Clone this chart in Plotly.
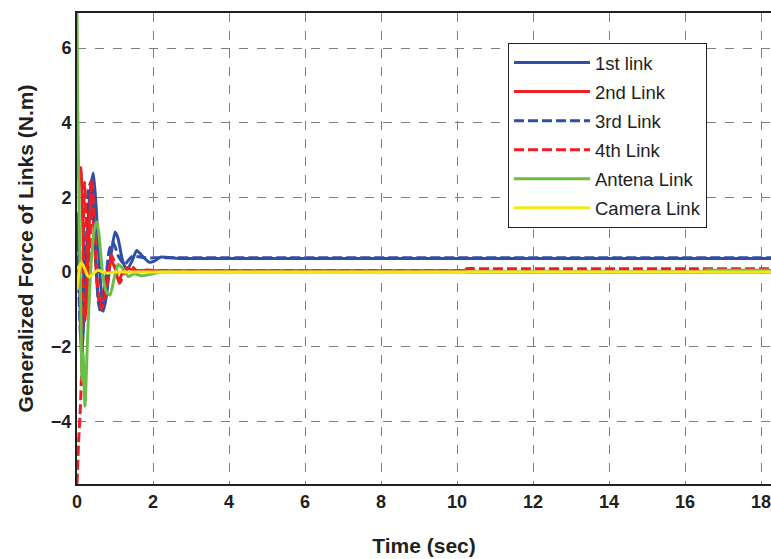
import plotly.graph_objects as go

# ---- data ----
t_link1 = [0, 0.05, 0.09, 0.12, 0.17, 0.25, 0.33, 0.43, 0.50, 0.60, 0.69, 0.78, 0.90, 1.00, 1.08, 1.20, 1.31, 1.45, 1.57, 1.70, 1.90, 2.05, 2.20, 2.60, 3.00, 18.6]
y_link1 = [1.6, 0.5, -1.5, -2.36, -1.5, 0.5, 2.0, 2.65, 1.8, 0.0, -1.05, -0.6, 0.5, 1.07, 0.9, 0.3, 0.05, 0.3, 0.58, 0.45, 0.26, 0.30, 0.40, 0.37, 0.36, 0.36]

t_link2 = [0, 0.05, 0.10, 0.16, 0.22, 0.28, 0.34, 0.38, 0.46, 0.55, 0.63, 0.75, 0.88, 1.00, 1.10, 1.25, 1.50, 2.00, 2.50, 10.0, 10.2, 10.25, 10.45, 18.6]
y_link2 = [3.7, 2.5, 2.8, 1.0, -1.3, -0.2, 1.8, 2.3, 0.8, -0.6, -0.95, -0.2, 0.35, 0.1, -0.25, 0.1, 0.05, 0.035, 0.035, 0.035, 0.035, 0.0, 0.0, 0.0]

t_link3 = [0, 0.05, 0.10, 0.20, 0.30, 0.38, 0.47, 0.56, 0.63, 0.75, 0.85, 0.95, 1.10, 1.25, 1.45, 1.80, 2.20, 18.6]
y_link3 = [1.2, -0.5, -1.8, 0.3, 2.2, 2.45, 1.0, -0.8, -1.1, -0.3, 0.6, 0.8, 0.4, 0.2, 0.42, 0.38, 0.38, 0.38]

t_link4 = [0, 0.04, 0.09, 0.13, 0.16, 0.20, 0.25, 0.30, 0.34, 0.39, 0.45, 0.55, 0.65, 0.75, 0.91, 1.00, 1.12, 1.30, 1.45, 1.60, 1.80, 2.20, 2.60, 10.0, 10.2, 10.25, 10.45, 18.6]
y_link4 = [-5.68, -4.6, -3.6, -2.4, 0.5, 2.4, 1.0, -1.0, 0.5, 2.5, 1.5, -0.5, -1.0, -0.6, 0.45, 0.2, -0.3, 0.1, 0.15, 0.0, 0.05, 0.035, 0.035, 0.035, 0.035, 0.09, 0.09, 0.09]

t_antena = [0, 0.02, 0.06, 0.10, 0.13, 0.16, 0.21, 0.27, 0.33, 0.40, 0.47, 0.52, 0.58, 0.68, 0.78, 0.87, 0.97, 1.08, 1.20, 1.35, 1.50, 1.70, 2.00, 2.20, 2.50, 16.3, 16.5, 16.55, 16.75, 18.6]
y_antena = [6.94, 4.3, 1.4, -1.0, -2.9, -2.2, -3.6, -2.0, -0.5, 0.6, 1.2, 1.35, 1.0, -0.1, -0.55, -0.62, -0.2, 0.2, 0.1, -0.12, -0.05, -0.1, -0.05, 0.0, 0.0, 0.0, 0.0, 0.05, 0.05, 0.05]

t_camera = [0, 0.04, 0.08, 0.12, 0.20, 0.28, 0.34, 0.45, 0.55, 0.68, 0.80, 1.00, 1.30, 18.6]
y_camera = [-0.48, -0.1, 0.2, 0.24, 0.1, -0.1, -0.13, -0.02, 0.05, 0.0, -0.03, 0.0, 0.0, 0.0]

series_names = ["1st link", "2nd Link", "3rd Link", "4th Link", "Antena Link", "Camera Link"]
x_ticks = [0, 2, 4, 6, 8, 10, 12, 14, 16, 18]
y_ticks = [-4, -2, 0, 2, 4, 6]

BLUE = "#2f4fa6"
RED = "#ee1f24"
GREEN = "#6cbd45"
YELLOW = "#f5e616"

series = [
    (t_link1, y_link1, BLUE, "solid"),
    (t_link2, y_link2, RED, "solid"),
    (t_link3, y_link3, BLUE, "10px,4px"),
    (t_link4, y_link4, RED, "10px,4px"),
    (t_antena, y_antena, GREEN, "solid"),
    (t_camera, y_camera, YELLOW, "solid"),
]

fig = go.Figure()
for name, (tx, ty, col, dash) in zip(series_names, series):
    fig.add_trace(go.Scatter(
        x=tx, y=ty, mode="lines", name=name, legendgroup=name,
        line=dict(color=col, width=3, dash=dash, shape="spline", smoothing=0.5),
    ))

TICKFONT = dict(size=18, weight="bold", family="Liberation Sans Narrow, Liberation Sans, Arial", color="#231f20")
TITLEFONT = dict(size=21, weight="bold", family="Liberation Sans Narrow, Liberation Sans, Arial", color="#231f20")

fig.update_layout(
    width=771, height=559,
    margin=dict(l=77, r=0, t=13, b=75),
    paper_bgcolor="white", plot_bgcolor="white",
    font=dict(family="Liberation Sans, Arial, sans-serif", color="#231f20"),
    showlegend=True,
    legend=dict(
        x=(508 - 77) / 694, y=(484 - 43) / 471, xanchor="left", yanchor="top",
        bgcolor="white", bordercolor="#231f20", borderwidth=1,
        font=dict(size=18.5, color="#231f20"),
        traceorder="grouped", tracegroupgap=2, itemwidth=76,
    ),
    xaxis=dict(
        range=[0, 18.26], tickvals=x_ticks, ticktext=[str(v) for v in x_ticks],
        showgrid=True, gridcolor="#7f7f7f", griddash="dash", gridwidth=1,
        showline=True, linecolor="#231f20", linewidth=2, mirror=True,
        ticks="", zeroline=False, automargin=False, ticklabeloverflow="allow",
        tickfont=TICKFONT,
        title=dict(text="Time (sec)", standoff=28, font=TITLEFONT),
    ),
    yaxis=dict(
        range=[-5.68, 6.94], tickvals=y_ticks,
        ticktext=[("\u2212" + str(-v)) if v < 0 else str(v) for v in y_ticks],
        showgrid=True, gridcolor="#7f7f7f", griddash="dash", gridwidth=1,
        showline=True, linecolor="#231f20", linewidth=2, mirror=False,
        ticks="", zeroline=False, automargin=False,
        tickfont=TICKFONT,
        title=dict(text="Generalized Force of Links (N.m)", standoff=12, font=TITLEFONT),
    ),
)

fig.write_html(
    "out.html",
    config={"displayModeBar": False},
    post_script="document.body.style.margin='0';document.body.style.overflow='hidden';",
)
